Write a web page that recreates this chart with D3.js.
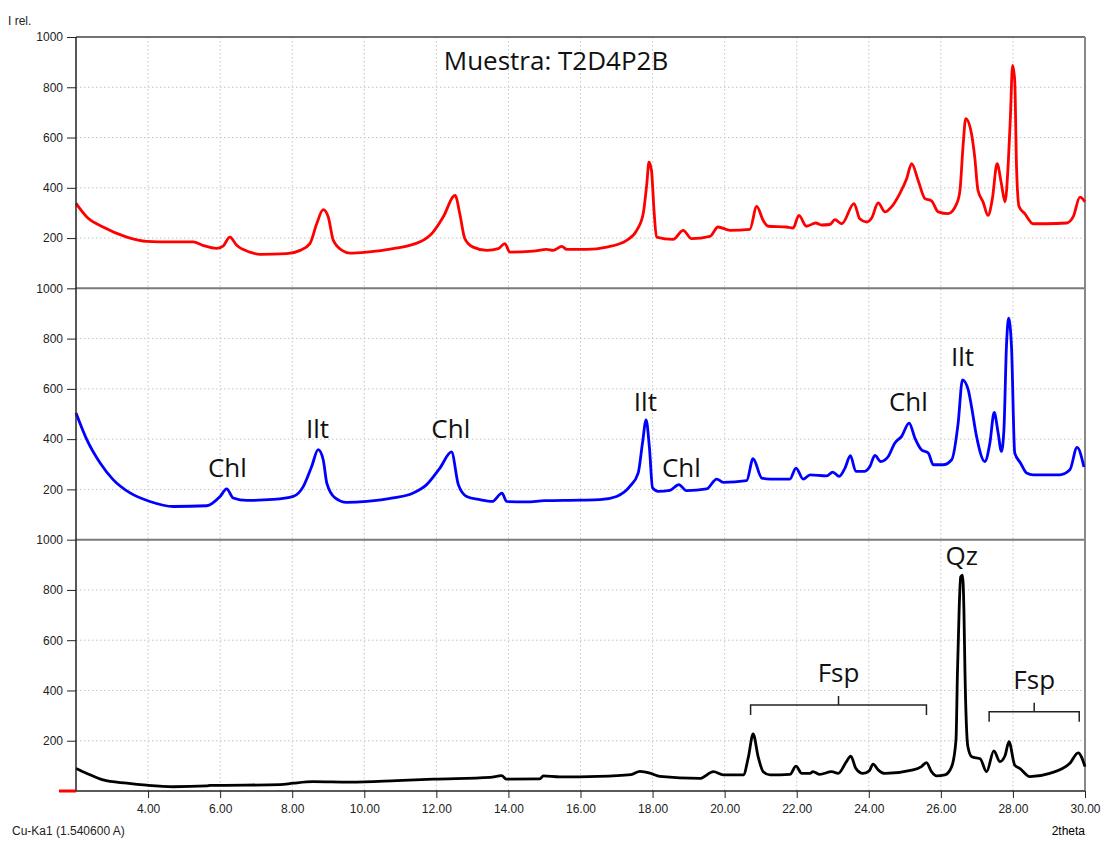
<!DOCTYPE html>
<html>
<head>
<meta charset="utf-8">
<script src="https://cdn.jsdelivr.net/npm/d3@7"></script>
<style>
  html, body { margin: 0; padding: 0; background: #fff; }
  svg { display: block; }
  .axis text { font-family: "Liberation Sans", Arial, sans-serif; font-size: 12px; fill: #222; }
  .axis path, .axis line { stroke: #222; }
</style>
</head>
<body>
<svg id="chart" width="1105" height="842"></svg>
<script>
// X-ray diffraction patterns, [2theta, relative intensity]
const redPattern = [
  [2.00,338],[2.30,284],[2.75,244],[3.41,204],[3.96,187],[4.61,185],[5.25,185],[5.52,171],
  [5.90,159],[6.08,168],[6.27,204],[6.46,171],[6.83,144],[7.11,135],[7.85,138],[8.22,151],
  [8.49,178],[8.68,257],[8.86,313],[9.00,284],[9.14,191],[9.42,148],[9.60,140],[10.07,144],
  [10.80,158],[11.55,185],[11.91,224],[12.19,284],[12.52,370],[12.65,297],[12.79,198],
  [13.02,164],[13.40,151],[13.72,158],[13.90,178],[14.04,144],[14.69,148],[15.06,155],
  [15.24,151],[15.48,167],[15.62,155],[16.17,155],[16.73,164],[17.28,191],[17.56,231],
  [17.74,297],[17.84,416],[17.90,502],[17.97,469],[18.04,310],[18.11,204],[18.57,195],
  [18.85,231],[19.08,198],[19.59,207],[19.82,244],[20.15,231],[20.70,235],[20.89,326],
  [21.07,270],[21.21,247],[21.72,244],[21.90,240],[22.06,290],[22.27,247],[22.53,260],
  [22.69,252],[22.92,254],[23.06,273],[23.25,257],[23.59,337],[23.75,277],[23.94,264],
  [24.08,280],[24.26,340],[24.45,304],[24.63,324],[24.86,377],[25.05,436],[25.19,496],
  [25.37,429],[25.56,357],[25.74,348],[25.93,304],[26.20,297],[26.44,337],[26.53,390],
  [26.62,575],[26.69,675],[26.85,615],[26.94,522],[27.03,390],[27.17,344],[27.31,290],
  [27.43,357],[27.56,496],[27.68,416],[27.78,344],[27.87,496],[27.93,682],[27.99,887],
  [28.05,827],[28.10,483],[28.17,326],[28.33,297],[28.56,257],[28.93,257],[29.49,260],
  [29.67,284],[29.86,363],[30.00,344]
];

const bluePattern = [
  [2.00,504],[2.30,398],[2.67,305],[3.03,239],[3.50,186],[4.05,152],[4.70,132],[5.63,135],
  [6.00,172],[6.18,202],[6.36,166],[6.74,156],[7.47,160],[8.03,172],[8.31,212],[8.54,291],
  [8.72,358],[8.86,318],[8.96,225],[9.19,166],[9.51,148],[10.07,152],[10.80,166],[11.36,186],
  [11.73,219],[12.10,285],[12.42,349],[12.61,219],[12.84,172],[13.21,159],[13.55,152],
  [13.82,185],[13.95,152],[14.50,150],[15.00,155],[16.00,157],[16.54,159],[17.00,172],
  [17.37,212],[17.60,265],[17.72,384],[17.82,477],[17.91,371],[18.00,206],[18.16,192],
  [18.48,196],[18.73,219],[18.94,195],[19.50,202],[19.78,241],[19.96,228],[20.61,235],
  [20.79,322],[21.03,245],[21.26,241],[21.81,241],[21.98,285],[22.18,241],[22.37,258],
  [22.83,254],[23.00,269],[23.18,252],[23.34,285],[23.49,334],[23.64,272],[23.89,272],
  [24.03,291],[24.17,335],[24.33,311],[24.54,331],[24.72,384],[24.91,411],[25.12,464],
  [25.28,404],[25.46,358],[25.65,345],[25.79,298],[26.06,298],[26.30,318],[26.48,464],
  [26.60,636],[26.76,596],[26.85,530],[26.99,411],[27.22,311],[27.36,384],[27.48,506],
  [27.59,424],[27.68,351],[27.75,437],[27.82,769],[27.88,881],[27.96,769],[28.05,345],
  [28.21,305],[28.38,265],[28.56,258],[29.30,258],[29.58,278],[29.78,367],[29.97,289]
];

const blackPattern = [
  [2.00,90],[2.30,70],[2.75,44],[3.41,31],[3.96,23],[4.70,17],[5.63,20],[5.72,22],[7.66,25],
  [8.03,31],[8.58,37],[9.60,35],[10.90,41],[11.91,47],[13.49,54],[13.81,61],[13.95,47],
  [14.87,48],[14.97,60],[15.43,56],[16.50,58],[17.40,65],[17.65,78],[17.95,70],[18.20,58],
  [19.31,50],[19.69,77],[19.96,64],[20.52,64],[20.66,136],[20.79,227],[20.93,136],[21.07,77],
  [21.26,64],[21.81,66],[21.98,99],[22.14,70],[22.37,70],[22.45,77],[22.64,66],[22.97,77],
  [23.15,70],[23.38,117],[23.50,139],[23.64,90],[23.84,70],[24.01,80],[24.12,107],[24.26,84],
  [24.45,70],[25.23,84],[25.46,97],[25.60,113],[25.74,77],[25.88,60],[26.11,64],[26.30,97],
  [26.42,203],[26.46,468],[26.51,733],[26.55,852],[26.60,859],[26.64,720],[26.67,468],
  [26.75,176],[26.86,136],[27.09,128],[27.27,77],[27.47,160],[27.64,117],[27.78,140],
  [27.89,196],[28.05,103],[28.19,90],[28.47,57],[29.02,70],[29.58,110],[29.81,152],[30.00,97]
];

const xTicks = [4,6,8,10,12,14,16,18,20,22,24,26,28,30];
const yTicks = [200,400,600,800,1000];

// Mineral labels: [panel, 2theta, intensity, text]
const peakLabels = [
  [1, 6.2, 250, "Chl"],
  [1, 8.7, 405, "Ilt"],
  [1, 12.4, 405, "Chl"],
  [1, 17.8, 510, "Ilt"],
  [1, 18.8, 250, "Chl"],
  [1, 25.1, 510, "Chl"],
  [1, 26.6, 690, "Ilt"],
  [2, 26.58, 900, "Qz"]
];
// Feldspar brackets: [from, to, bracket height, label]
const fspBrackets = [
  [20.72, 25.60, 342, "Fsp"],
  [27.34, 29.84, 315, "Fsp"]
];

const svg = d3.select("#chart");
const plotL = 76, plotR = 1085, plotT = 37, plotB = 791;
const panelH = (plotB - plotT) / 3;

const x = d3.scaleLinear().domain([2, 30]).range([plotL, plotR]);
const panelY = [0, 1, 2].map(i =>
  d3.scaleLinear().domain([0, 1000]).range([plotT + panelH * (i + 1), plotT + panelH * i]));

// grid
const grid = svg.append("g").attr("stroke", "#c4c4c4").attr("stroke-width", 1)
  .attr("stroke-dasharray", "1.5,2.5");
xTicks.filter(t => t < 30).forEach(t => {
  grid.append("line").attr("x1", x(t)).attr("x2", x(t)).attr("y1", plotT).attr("y2", plotB);
});
panelY.forEach(y => {
  [200, 400, 600, 800].forEach(v => {
    grid.append("line").attr("x1", plotL).attr("x2", plotR).attr("y1", y(v)).attr("y2", y(v));
  });
});

// frame
svg.append("line").attr("x1", plotL).attr("x2", plotR).attr("y1", plotT).attr("y2", plotT)
  .attr("stroke", "#444").attr("stroke-width", 1.5);
[1, 2].forEach(i => {
  svg.append("line").attr("x1", plotL).attr("x2", plotR)
    .attr("y1", panelY[i](1000)).attr("y2", panelY[i](1000))
    .attr("stroke", "#7a7a7a").attr("stroke-width", 2);
});
svg.append("line").attr("x1", plotR).attr("x2", plotR).attr("y1", plotT).attr("y2", plotB)
  .attr("stroke", "#888").attr("stroke-width", 2);

// curves
const line = y => d3.line().curve(d3.curveMonotoneX).x(d => x(d[0])).y(d => y(d[1]));
const series = [[redPattern, "#ff0000", 0], [bluePattern, "#0000ff", 1], [blackPattern, "#000000", 2]];
series.forEach(([data, color, i]) => {
  svg.append("path").datum(data).attr("d", line(panelY[i]))
    .attr("fill", "none").attr("stroke", color).attr("stroke-width", 2.8)
    .attr("stroke-linejoin", "round");
});

// axes
panelY.forEach(y => {
  const g = svg.append("g").attr("class", "axis").attr("transform", `translate(${plotL},0)`)
    .call(d3.axisLeft(y).tickValues(yTicks).tickSize(9).tickPadding(4).tickFormat(d3.format("d")));
  g.select(".domain").remove();
});
svg.append("line").attr("x1", plotL).attr("x2", plotL).attr("y1", plotT).attr("y2", plotB)
  .attr("stroke", "#222").attr("stroke-width", 1.5);
const xa = svg.append("g").attr("class", "axis").attr("transform", `translate(0,${plotB})`)
  .call(d3.axisBottom(x).tickValues(xTicks).tickSize(7).tickPadding(6).tickFormat(d3.format(".2f")));
xa.select(".domain").attr("stroke-width", 1.5).attr("d", `M${plotL},0H${plotR}`);

// zero marker
svg.append("line").attr("x1", 59).attr("x2", plotL).attr("y1", plotB).attr("y2", plotB)
  .attr("stroke", "#ff0000").attr("stroke-width", 3);

// axis captions
const capFont = "Liberation Sans, Arial, sans-serif";
svg.append("text").attr("x", 8).attr("y", 25).attr("font-family", capFont)
  .attr("font-size", "12px").attr("fill", "#222").text("I rel.");
svg.append("text").attr("x", 12).attr("y", 835).attr("font-family", capFont)
  .attr("font-size", "12px").attr("fill", "#222").text("Cu-Ka1 (1.540600 A)");
svg.append("text").attr("x", plotR).attr("y", 835).attr("text-anchor", "end")
  .attr("font-family", capFont).attr("font-size", "12px").attr("fill", "#000")
  .text("2theta");

// title
svg.append("text").attr("x", 556).attr("y", 70).attr("text-anchor", "middle")
  .attr("font-family", "Open Sans, Noto Sans, sans-serif").attr("font-size", "26px")
  .attr("fill", "#111").text("Muestra: T2D4P2B");

// mineral labels
const labelFont = "Open Sans, Noto Sans, sans-serif";
peakLabels.forEach(([p, t, v, txt]) => {
  svg.append("text").attr("x", x(t)).attr("y", panelY[p](v)).attr("text-anchor", "middle")
    .attr("font-family", labelFont).attr("font-size", "26px").attr("fill", "#111").text(txt);
});

// feldspar brackets
fspBrackets.forEach(([a, b, h, txt]) => {
  const y = panelY[2];
  const mid = (a + b) / 2;
  const yb = y(h), drop = 10, rise = 9;
  svg.append("path")
    .attr("d", `M${x(a)},${yb + drop}V${yb}H${x(b)}V${yb + drop}M${x(mid)},${yb}V${yb - rise}`)
    .attr("fill", "none").attr("stroke", "#222").attr("stroke-width", 1.5);
  svg.append("text").attr("x", x(mid)).attr("y", yb - rise - 14).attr("text-anchor", "middle")
    .attr("font-family", labelFont).attr("font-size", "26px").attr("fill", "#111").text(txt);
});
</script>
</body>
</html>
